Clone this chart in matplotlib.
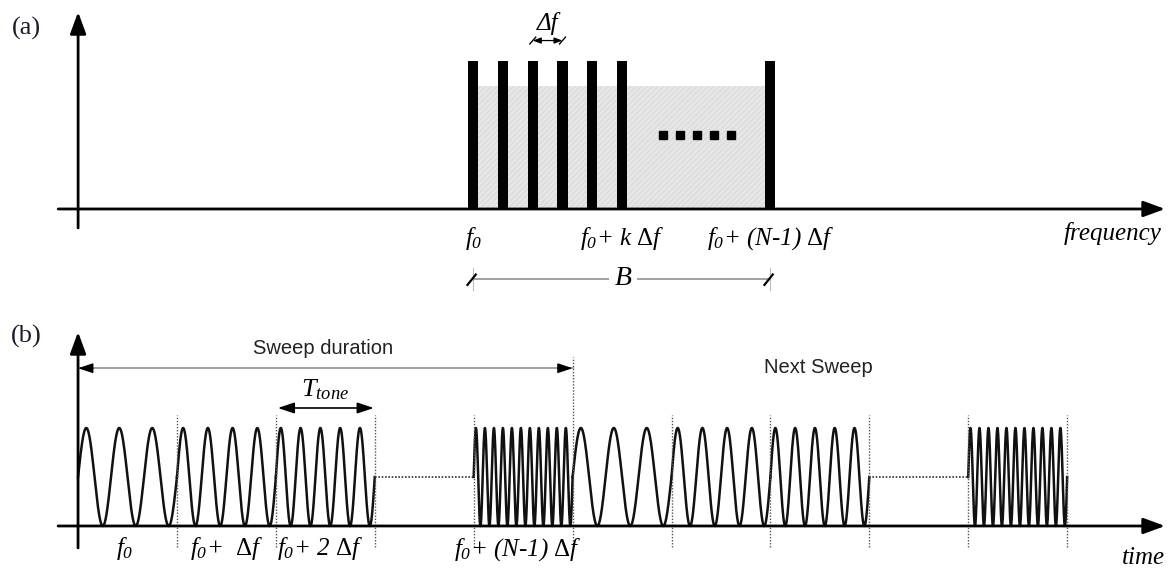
import numpy as np
import matplotlib
matplotlib.use('Agg')
import matplotlib.pyplot as plt
from matplotlib.patches import Rectangle

# math text: everything italic serif, upright Delta through \mathsf
plt.rcParams['mathtext.fontset'] = 'custom'
plt.rcParams['mathtext.rm'] = 'Liberation Serif:italic'
plt.rcParams['mathtext.it'] = 'Liberation Serif:italic'
plt.rcParams['mathtext.sf'] = 'Liberation Serif'

# (a) spectrum: tone positions in units of delta f, N-1 = 10
tone_index = [0, 1, 2, 3, 4, 5, 10]
tone_amp = [1, 1, 1, 1, 1, 1, 1]
band_level = 0.83
dots_pos = [6.4, 6.97, 7.54, 8.11, 8.68]
freq_labels = [r'$f_0$', r'$f_0$+ k $\mathsf{\Delta}f$', r'$f_0$+ (N-1) $\mathsf{\Delta}f$']
freq_label_pos = [0, 5, 10]

# (b) time signal: cycles per tone slot (None = skipped tones), two sweeps
cycles_per_tone = [3, 4, 5, None, 11, 3, 4, 5, None, 11]
tone_dividers = [1, 2, 3, 4, 6, 7, 8, 9, 10]
sweep_end = 5
time_labels = [r'$f_0$', r'$f_0$+  $\mathsf{\Delta}f$', r'$f_0$+ 2 $\mathsf{\Delta}f$',
               r'$f_0$+ (N-1) $\mathsf{\Delta}f$']
time_label_pos = [0.47, 1.5, 2.45, 4.45]

serif = 'Liberation Serif'
sans = 'Liberation Sans'

fig = plt.figure(figsize=(11.71, 5.74), dpi=100)
axa = fig.add_axes([0, 274 / 574, 1, 300 / 574])
axb = fig.add_axes([0, 0, 1, 274 / 574])
for ax in (axa, axb):
    ax.set_axis_off()

def arrow(ax, start, tip, lw=2, ms=22, style='-|>,head_length=0.6,head_width=0.22', color='k'):
    ax.annotate('', xy=tip, xytext=start,
                arrowprops=dict(arrowstyle=style, lw=lw, color=color, mutation_scale=ms,
                                shrinkA=0, shrinkB=0))

#%% panel (a)
axa.set_xlim(-15.94, 23.49)
axa.set_ylim(-0.615, 1.412)
y_axis_a = -13.31
arrow(axa, (-13.98, 0), (23.29, 0))
arrow(axa, (y_axis_a, -0.128), (y_axis_a, 1.331))

axa.add_patch(Rectangle((tone_index[0], 0), tone_index[-1] - tone_index[0], band_level,
                        facecolor='#e6e6e6', edgecolor='#dcdcdc', hatch='//////', lw=0, zorder=1))
axa.bar(tone_index, tone_amp, width=0.34, color='k', zorder=3)
axa.plot(dots_pos, [0.5] * len(dots_pos), 's', color='k', ms=5.5, zorder=3)

for lab, p in zip(freq_labels, freq_label_pos):
    axa.text(p, -0.243, lab, ha='center', va='baseline', fontsize=18,
             family=serif, style='italic')
axa.text(23.19, -0.209, 'frequency', ha='right', va='baseline', fontsize=18,
         family=serif, style='italic')

# delta f marker
axa.text(2.5, 1.25, 'Δf', ha='center', va='center', fontsize=18, family=serif, style='italic')
arrow(axa, (2, 1.138), (3, 1.138), lw=0.9, ms=6, style='<|-|>,head_length=0.8,head_width=0.3')
for p in (2, 3):
    axa.plot([p - 0.1, p + 0.1], [1.115, 1.161], color='k', lw=1)

# bandwidth B
yb = -0.473
axa.plot([tone_index[0], tone_index[-1]], [yb, yb], color='#9a9a9a', lw=1.3)
for p in (tone_index[0], tone_index[-1]):
    axa.plot([p, p], [yb - 0.075, yb + 0.075], color='#bbbbbb', lw=0.8)
    axa.plot([p - 0.2, p + 0.08], [yb - 0.04, yb + 0.03], color='k', lw=1.6)
axa.text(5.03, yb, 'B', ha='center', va='center', fontsize=20, family=serif, style='italic',
         bbox=dict(facecolor='white', edgecolor='none', pad=4))

#%% panel (b)
axb.set_xlim(-0.789, 11.05)
axb.set_ylim(-0.49, 2.306)
arrow(axb, (-0.202, 0), (10.99, 0))
arrow(axb, (0, -0.224), (0, 1.98))

for k, c in enumerate(cycles_per_tone):
    t = np.linspace(k, k + 1, 500)
    if c is None:
        axb.plot([k, k + 1], [0.5, 0.5], color='#333333', lw=1.2, ls=(0, (1, 1)))
    else:
        axb.plot(t, 0.5 + 0.5 * np.sin(2 * np.pi * c * (t - k)), color='#111111', lw=1.8)

for d in tone_dividers:
    axb.plot([d, d], [-0.214, 1.13], color='#555555', lw=1, ls=(0, (1, 1.2)))
axb.plot([sweep_end, sweep_end], [-0.214, 1.72], color='#555555', lw=1, ls=(0, (1, 1.2)))

# sweep duration
ys = 1.61
axb.plot([0, sweep_end], [ys, ys], color='#a0a0a0', lw=1.4)
arrow(axb, (0.15, ys), (0, ys), lw=1, ms=10, style='-|>,head_length=0.9,head_width=0.3')
arrow(axb, (sweep_end - 0.15, ys), (sweep_end, ys), lw=1, ms=10, style='-|>,head_length=0.9,head_width=0.3')
axb.text(2.48, 1.816, 'Sweep duration', ha='center', va='center', fontsize=14.5, family=sans,
         color='#222222')
axb.text(7.48, 1.62, 'Next Sweep', ha='center', va='center', fontsize=14.5, family=sans,
         color='#222222')

# tone duration
arrow(axb, (2.02, 1.204), (2.99, 1.204), lw=1.2, ms=11, style='<|-|>,head_length=0.9,head_width=0.3')
axb.text(2.5, 1.39, r'$T_{tone}$', ha='center', va='center', fontsize=19)

for lab, p in zip(time_labels, time_label_pos):
    axb.text(p, -0.3, lab, ha='center', va='baseline', fontsize=18, family=serif, style='italic')
axb.text(10.99, -0.39, 'time', ha='right', va='baseline', fontsize=18, family=serif, style='italic')

fig.text(26 / 1171, 1 - 28 / 574, '(a)', ha='center', va='center', fontsize=19, family=serif,
         color='#1c1c2c')
fig.text(26 / 1171, 1 - 336 / 574, '(b)', ha='center', va='center', fontsize=19, family=serif,
         color='#1c1c2c')

fig.savefig('out.png', dpi=100, facecolor='white')
